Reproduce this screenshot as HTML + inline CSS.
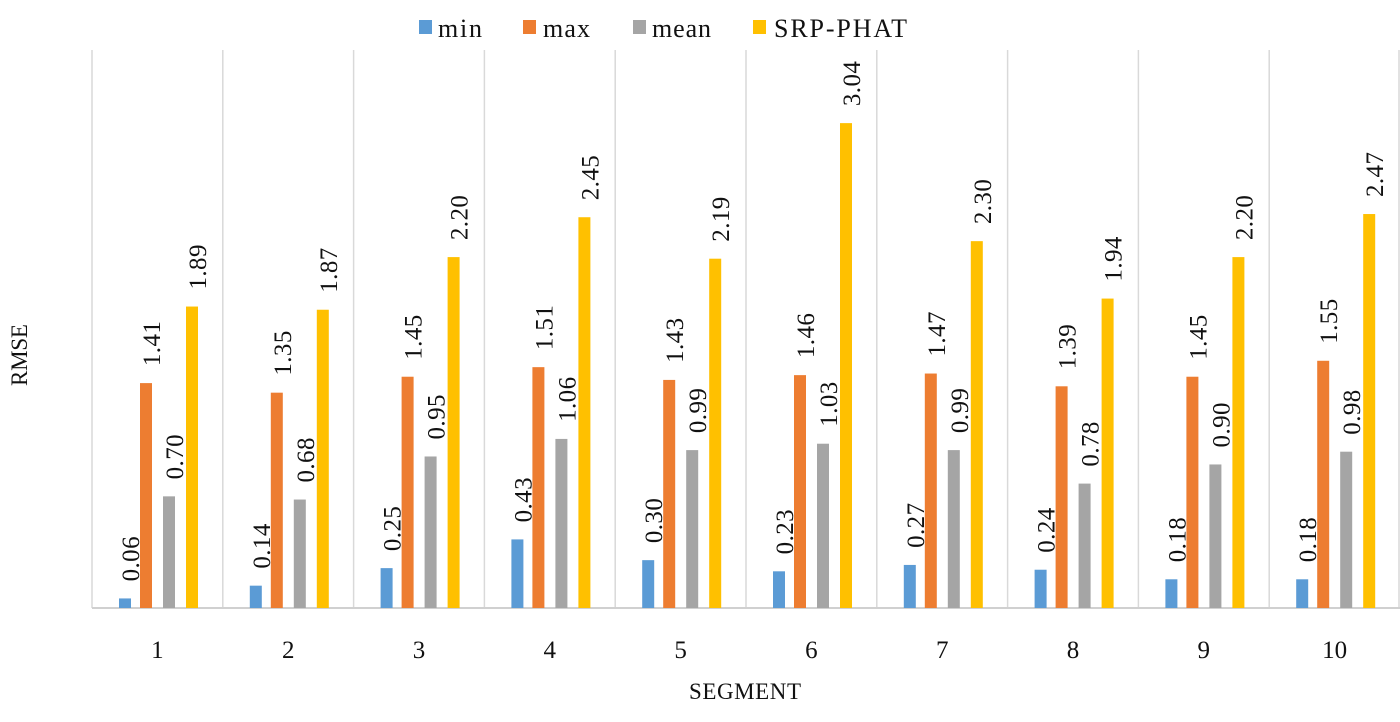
<!DOCTYPE html>
<html><head><meta charset="utf-8"><style>
html,body{margin:0;padding:0;background:#fff;}
svg text{font-family:"Liberation Serif",serif;fill:#111;}
</style></head><body>
<svg id="chart" width="1400" height="717">
<g id="grid"></g><g id="bars"></g><g id="labels"></g>
<g>
 <rect x="419" y="20" width="13" height="14" fill="#5b9bd5"/>
 <text x="438" y="37" font-size="26" textLength="44">min</text>
 <rect x="523" y="20" width="13" height="14" fill="#ed7d31"/>
 <text x="543" y="37" font-size="26" textLength="47">max</text>
 <rect x="633" y="20" width="13" height="14" fill="#a5a5a5"/>
 <text x="652" y="37" font-size="26" textLength="59">mean</text>
 <rect x="753" y="20" width="13" height="14" fill="#ffc000"/>
 <text x="774" y="37" font-size="26" textLength="133">SRP-PHAT</text>
</g>
<text x="745" y="699" font-size="23" text-anchor="middle" textLength="112">SEGMENT</text>
<text transform="translate(27,355) rotate(-90)" font-size="23" text-anchor="middle" textLength="62">RMSE</text>
</svg>
<script>
const categories=["1","2","3","4","5","6","7","8","9","10"];
const minVals=[0.06,0.14,0.25,0.43,0.30,0.23,0.27,0.24,0.18,0.18];
const maxVals=[1.41,1.35,1.45,1.51,1.43,1.46,1.47,1.39,1.45,1.55];
const meanVals=[0.70,0.68,0.95,1.06,0.99,1.03,0.99,0.78,0.90,0.98];
const srpVals=[1.89,1.87,2.20,2.45,2.19,3.04,2.30,1.94,2.20,2.47];
const seriesNames=["min","max","mean","srp-phat"];
const colors=["#5b9bd5","#ed7d31","#a5a5a5","#ffc000"];
const NS="http://www.w3.org/2000/svg";
const left=92,catW=130.8,base=608,scale=159.5;
const xCat=i=>left+i*catW;
const yVal=v=>base-v*scale;
const offs=[27,48,71,94],bw=12;
const grid=document.getElementById('grid'),bars=document.getElementById('bars'),labels=document.getElementById('labels');
function mk(tag,attrs,parent){const e=document.createElementNS(NS,tag);for(const k in attrs)e.setAttribute(k,attrs[k]);parent.appendChild(e);return e;}
for(let i=0;i<=categories.length;i++){
 const x=Math.min(xCat(i),1399);
 const l=mk('line',{x1:x,x2:x,y1:50,y2:base,stroke:'#d9d9d9','stroke-width':1.5},grid);
 
 
}
const ax=mk('line',{x1:left,x2:1400,y1:base,y2:base,stroke:'#d0d0d0','stroke-width':2},grid);


const all=[minVals,maxVals,meanVals,srpVals];
categories.forEach((c,i)=>{
 const t=mk('text',{x:xCat(i)+catW/2,y:658,'font-size':25,'text-anchor':'middle'},labels);
 t.textContent=c;
 
 
 all.forEach((arr,s)=>{
  const v=arr[i],x=xCat(i)+offs[s],y=yVal(v);
  const r=mk('rect',{x:x,y:y,width:bw,height:base-y,fill:colors[s]},bars);
  
  
  const cx=x+bw/2+14,cy=y-17;
  const lt=mk('text',{transform:`translate(${cx},${cy}) rotate(-90)`,'font-size':25,textLength:45},labels);
  lt.textContent=v.toFixed(2);
  
  
 });
});
</script>
</body></html>
